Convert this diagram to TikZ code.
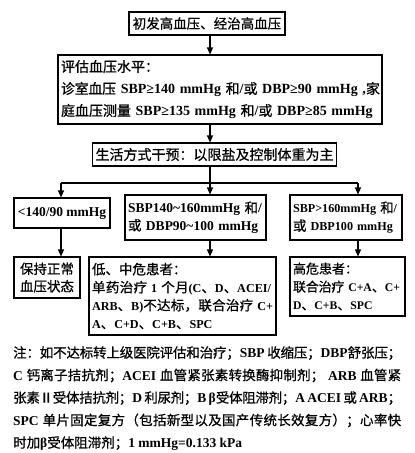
\documentclass[tikz,border=0pt]{standalone}
\usepackage{fontspec}
\usetikzlibrary{arrows.meta}
\newfontface\cjkfull{Noto Sans CJK SC}[FakeBold=0.7]
\newfontface\latA{Liberation Serif Bold}
\newfontface\latB{Liberation Serif Bold}[Scale=0.9]
\let\cjkcur\cjkfull
\let\latcur\latA
\def\cjk{\cjkcur}
\def\lat{\latcur}
\XeTeXinterchartokenstate=1
\newXeTeXintercharclass\CJKcls
\newcount\cjkcnt
\def\setcjkrange#1#2{\cjkcnt=#1\relax\loop\XeTeXcharclass\cjkcnt=\CJKcls\relax\ifnum\cjkcnt<#2\relax\advance\cjkcnt by 1\relax\repeat}
\setcjkrange{"3000}{"303F}
\setcjkrange{"4E00}{"9FFF}
\setcjkrange{"FF00}{"FFEF}
\setcjkrange{"2160}{"216F}
\def\cjkglue{\hskip 0pt plus 1pt minus 0.3pt}
\XeTeXinterchartoks 0 \CJKcls = {\cjk}
\XeTeXinterchartoks \CJKcls 0 = {\lat}
\XeTeXinterchartoks 4095 \CJKcls = {\cjk}
\XeTeXinterchartoks \CJKcls 4095 = {\lat}
\XeTeXinterchartoks \CJKcls \CJKcls = {\cjkglue}
\newcommand\oneline[1]{\mbox{#1}}
\newcommand\fillline[2]{\makebox[#1][s]{#2}}
\begin{document}
\begin{tikzpicture}[x=1pt,y=-1pt,
  box/.style={draw, line width=1.1pt, inner xsep=3pt, inner ysep=2pt, align=left},
  cbox/.style={draw, line width=1.1pt, inner xsep=3pt, inner ysep=2pt, align=center},
  arr/.style={line width=1.1pt, -{Triangle[width=6pt,length=7pt]}},
  ln/.style={line width=1.1pt},
  fa/.style={font=\fontsize{13.5}{17.5}\selectfont\let\latcur\latA\lat},
  fc/.style={font=\fontsize{13.5}{18}\selectfont\let\latcur\latB\lat},
  fd/.style={font=\fontsize{13}{18}\selectfont\let\latcur\latB\lat},
  fb/.style={font=\fontsize{14}{22}\selectfont\let\latcur\latA\lat},
  fn/.style={font=\fontsize{13.5}{22.5}\selectfont\let\latcur\latA\lat}]
\useasboundingbox[fill=white] (0,0) rectangle (415,453);

\node[cbox, fa, minimum width=156pt, minimum height=23pt] (b1) at (207,23.5) {初发高血压、经治高血压};
\node[box, fb, text width=318pt, minimum height=69pt] (b2) at (220,89.5)
  {\oneline{评估血压水平：}\\
   \fillline{314pt}{诊室血压 SBP≥140 mmHg 和/或 DBP≥90 mmHg ,家}\\
   \oneline{庭血压测量 SBP≥135 mmHg 和/或 DBP≥85 mmHg}};
\node[cbox, fb, minimum width=235pt, minimum height=23pt] (b3) at (214.5,154.5) {生活方式干预：以限盐及控制体重为主};

\node[cbox, fa, minimum width=96pt, minimum height=30pt] (c1) at (62,213) {<140/90 mmHg};
\node[box, fa, text width=135pt, minimum height=45pt] (c2) at (195.5,217.5)
  {\oneline{SBP140\textasciitilde160mmHg 和/}\\\oneline{或 DBP90\textasciitilde100 mmHg}};
\node[box, fc, text width=106pt, minimum height=45pt] (c3) at (346,217.5)
  {\oneline{SBP>160mmHg 和/}\\\oneline{或 DBP100 mmHg}};

\node[cbox, fa, minimum width=66pt, minimum height=41pt] (d1) at (47,277.5) {保持正常\\血压状态};
\node[box, fc, text width=181pt, minimum height=78pt] (d2) at (182.5,296)
  {\oneline{低、中危患者：}\\
   \fillline{179pt}{单药治疗 1 个月(C、D、ACEI/}\\
   \fillline{181pt}{ARB、B)不达标，联合治疗 C+}\\
   \oneline{A、C+D、C+B、SPC}};
\node[box, fd, text width=109pt, minimum height=59pt] (d3) at (347.5,286.5)
  {\oneline{高危患者：}\\
   \fillline{107pt}{联合治疗 C+A、C+}\\
   \oneline{D、C+B、SPC}};

\node[fn, anchor=north west, inner sep=0pt, align=left] (notes) at (13,346)
  {\fillline{388pt}{注：如不达标转上级医院评估和治疗；SBP 收缩压；DBP舒张压；}\\
   \fillline{388pt}{C 钙离子拮抗剂；ACEI 血管紧张素转换酶抑制剂； ARB 血管紧}\\
   \fillline{388pt}{张素Ⅱ受体拮抗剂；D 利尿剂；B β受体阻滞剂；A ACEI 或 ARB；}\\
   \fillline{388pt}{SPC 单片固定复方（包括新型以及国产传统长效复方）；心率快}\\
   \oneline{时加β受体阻滞剂；1 mmHg=0.133 kPa}};

\coordinate (tx) at (210,0);
\coordinate (j0) at (210,183);
\coordinate (jl) at (61,183);
\coordinate (jr) at (358,183);
\draw[arr] (b1.south -| tx) -- (b2.north -| tx);
\draw[arr] (b2.south -| tx) -- (b3.north -| tx);
\draw[ln] (b3.south -| tx) -- (j0);
\draw[ln] (jl) -- (jr);
\draw[arr] (jl) -- (jl |- c1.north);
\draw[arr] (j0) -- (j0 |- c2.north);
\draw[arr] (jr) -- (jr |- c3.north);
\draw[arr] (c1.south -| jl) -- (d1.north -| jl);
\draw[arr] (c2.south -| j0) -- (d2.north -| j0);
\draw[arr] (c3.south -| jr) -- (d3.north -| jr);
\end{tikzpicture}
\end{document}
